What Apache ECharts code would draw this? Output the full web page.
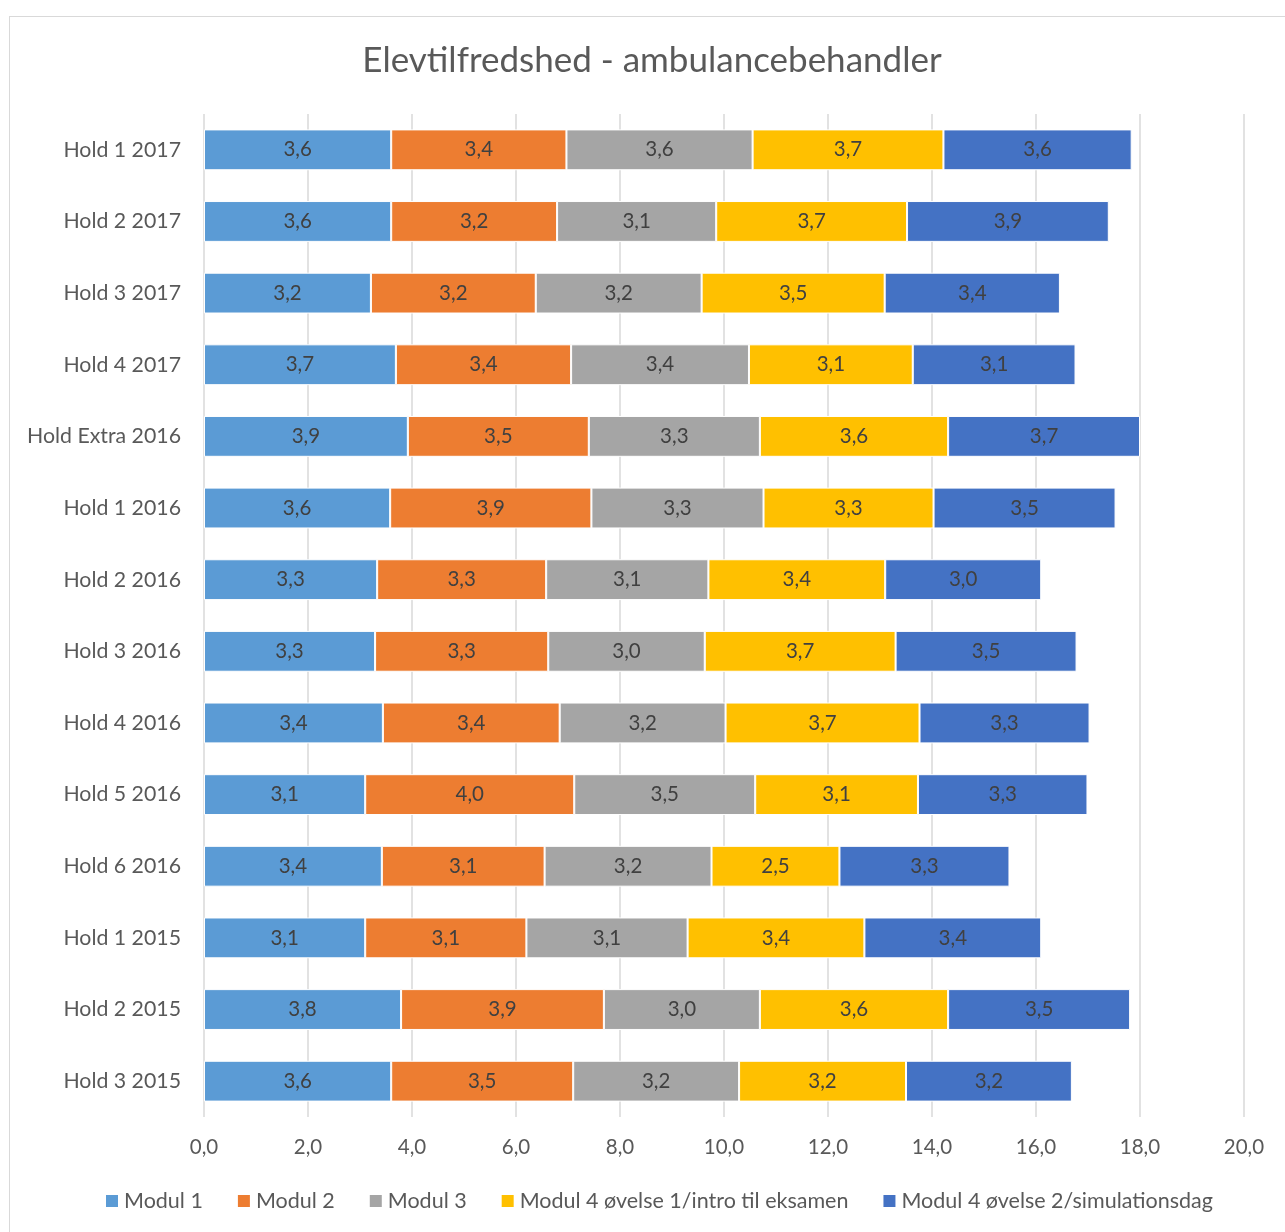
<!DOCTYPE html>
<html>
<head>
<meta charset="utf-8">
<script src="https://cdn.jsdelivr.net/npm/echarts@6/dist/echarts.min.js"></script>
<style>
  html, body { margin: 0; padding: 0; background: #fff; }
  #frame { position: absolute; left: 9px; top: 16px; width: 1285px; height: 1230px; border: 1px solid #d9d9d9; box-sizing: border-box; }
  #chart { width: 1285px; height: 1232px; }
</style>
</head>
<body>
<div id="frame"></div>
<div id="chart"></div>
<script>
  // kategorier, øverst først
  const categories = ['Hold 1 2017', 'Hold 2 2017', 'Hold 3 2017', 'Hold 4 2017', 'Hold Extra 2016',
    'Hold 1 2016', 'Hold 2 2016', 'Hold 3 2016', 'Hold 4 2016', 'Hold 5 2016', 'Hold 6 2016',
    'Hold 1 2015', 'Hold 2 2015', 'Hold 3 2015'];
  const seriesNames = ['Modul 1', 'Modul 2', 'Modul 3', 'Modul 4 øvelse 1/intro til eksamen', 'Modul 4 øvelse 2/simulationsdag'];
  const modul1 = [3.60, 3.60, 3.21, 3.69, 3.92, 3.58, 3.33, 3.29, 3.44, 3.10, 3.42, 3.10, 3.79, 3.60];
  const modul2 = [3.37, 3.19, 3.17, 3.37, 3.48, 3.87, 3.25, 3.33, 3.40, 4.02, 3.13, 3.10, 3.90, 3.50];
  const modul3 = [3.58, 3.06, 3.19, 3.42, 3.29, 3.31, 3.12, 3.01, 3.19, 3.48, 3.21, 3.10, 3.00, 3.19];
  const modul4a = [3.67, 3.67, 3.52, 3.15, 3.62, 3.27, 3.40, 3.67, 3.73, 3.13, 2.46, 3.40, 3.62, 3.21];
  const modul4b = [3.62, 3.88, 3.37, 3.13, 3.69, 3.50, 3.00, 3.48, 3.27, 3.26, 3.27, 3.40, 3.50, 3.19];
  const colors = ['#5b9bd5', '#ed7d31', '#a5a5a5', '#ffc000', '#4472c4'];

  const font = 'Lato, "Open Sans", sans-serif';
  const textColor = '#595959';
  const fmt = v => v.toFixed(1).replace('.', ',');

  const chart = echarts.init(document.getElementById('chart'));
  const allData = [modul1, modul2, modul3, modul4a, modul4b];

  chart.setOption({
    animation: false,
    color: colors,
    textStyle: { fontFamily: font },
    title: {
      text: 'Elevtilfredshed - ambulancebehandler',
      left: 647,
      textAlign: 'center',
      top: 38,
      textStyle: { fontFamily: font, fontSize: 35, fontWeight: 'normal', color: textColor }
    },
    legend: {
      bottom: 15,
      left: 99,
      itemWidth: 14,
      itemHeight: 14,
      itemGap: 33,
      icon: 'rect',
      textStyle: { fontFamily: font, fontSize: 21.5, color: textColor },
      data: seriesNames
    },
    grid: { left: 204, right: 41, top: 114, height: 1003, containLabel: false },
    xAxis: {
      type: 'value',
      min: 0,
      max: 20,
      interval: 2,
      axisLine: { show: false },
      axisTick: { show: false },
      splitLine: { show: true, lineStyle: { color: '#d9d9d9', width: 1.5 } },
      axisLabel: { fontFamily: font, fontSize: 20.5, color: textColor, margin: 20, formatter: fmt }
    },
    yAxis: {
      type: 'category',
      inverse: true,
      data: categories,
      axisLine: { show: false },
      axisTick: { show: false },
      axisLabel: { fontFamily: font, fontSize: 21.3, color: textColor, margin: 23 }
    },
    series: seriesNames.map((name, i) => ({
      name: name,
      type: 'bar',
      stack: 'total',
      barWidth: '57%',
      data: allData[i],
      itemStyle: { borderColor: '#ffffff', borderWidth: 1 },
      label: {
        show: true,
        position: 'inside',
        fontFamily: font,
        fontSize: 20.5,
        color: '#404040',
        formatter: p => fmt(p.value)
      }
    }))
  });
</script>
</body>
</html>
